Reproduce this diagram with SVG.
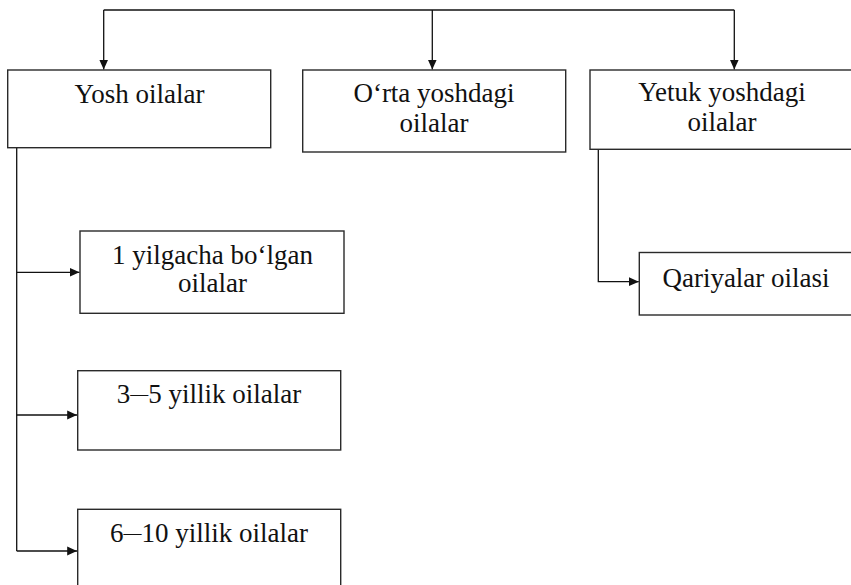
<svg xmlns="http://www.w3.org/2000/svg" width="851" height="585" viewBox="0 0 851 585">
<defs>
<marker id="arr" markerUnits="userSpaceOnUse" markerWidth="10" markerHeight="10" refX="10" refY="5" orient="auto">
<path d="M0,0.5 L10,5 L0,9.5 Z" fill="#111"/>
</marker>
<style>
.box{fill:#fff;stroke:#2a2a2a;stroke-width:1.4}
.ln{fill:none;stroke:#111;stroke-width:1.3}
.t{font-family:"Liberation Serif","Times New Roman",serif;font-size:27px;fill:#111;text-anchor:middle}
.d{font-size:18px}
</style>
</defs>
<rect width="851" height="585" fill="#fff"/>
<g id="connectors">
<path class="ln" d="M103.7,10 H734.3"/>
<path class="ln" d="M103.7,10 V69.5" marker-end="url(#arr)"/>
<path class="ln" d="M432.3,10 V69.5" marker-end="url(#arr)"/>
<path class="ln" d="M734.3,10 V69.5" marker-end="url(#arr)"/>
<path class="ln" d="M16.7,147.7 V551"/>
<path class="ln" d="M16.7,272.3 H79.5" marker-end="url(#arr)"/>
<path class="ln" d="M16.7,415 H77.2" marker-end="url(#arr)"/>
<path class="ln" d="M16.7,551 H77.2" marker-end="url(#arr)"/>
<path class="ln" d="M598.3,149.3 V281.7 H638.8" marker-end="url(#arr)"/>
</g>
<g id="node-yosh">
<rect class="box" x="7.7" y="70" width="263" height="77.7"/>
<text class="t" x="139.5" y="103.3">Yosh oilalar</text>
</g>
<g id="node-orta">
<rect class="box" x="302.7" y="70" width="263" height="82"/>
<text class="t" x="434" y="102">O‘rta yoshdagi</text>
<text class="t" x="434" y="132">oilalar</text>
</g>
<g id="node-yetuk">
<rect class="box" x="590" y="70" width="264" height="79.3"/>
<text class="t" x="722" y="101">Yetuk yoshdagi</text>
<text class="t" x="722" y="131">oilalar</text>
</g>
<g id="node-1yil">
<rect class="box" x="80" y="231" width="264" height="82.3"/>
<text class="t" x="212.5" y="264.3">1 yilgacha bo‘lgan</text>
<text class="t" x="212.5" y="291.7">oilalar</text>
</g>
<g id="node-3-5">
<rect class="box" x="77.7" y="370.7" width="263" height="79.3"/>
<text class="t" x="209" y="403.3">3<tspan class="d" dy="-3">—</tspan><tspan dy="3">5 yillik oilalar</tspan></text>
</g>
<g id="node-6-10">
<rect class="box" x="77.7" y="509.3" width="263" height="100"/>
<text class="t" x="209" y="541.7">6<tspan class="d" dy="-3">—</tspan><tspan dy="3">10 yillik oilalar</tspan></text>
</g>
<g id="node-qariyalar">
<rect class="box" x="639.3" y="252.5" width="214" height="62.5"/>
<text class="t" x="746" y="286.7">Qariyalar oilasi</text>
</g>
</svg>
